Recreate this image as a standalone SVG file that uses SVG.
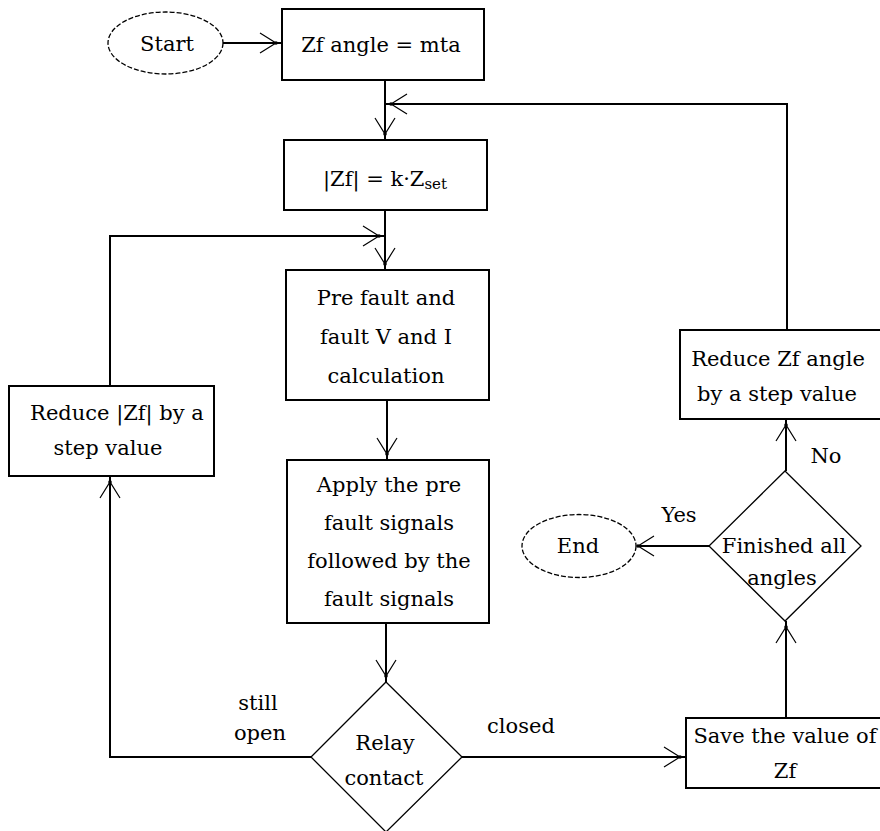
<svg xmlns="http://www.w3.org/2000/svg" width="880" height="831" viewBox="0 0 880 831">
  <style>
    .box { fill: #fff; stroke: #000; stroke-width: 2; }
    .dia { fill: #fff; stroke: #000; stroke-width: 1.3; }
    .term { fill: #fff; stroke: #000; stroke-width: 1.3; stroke-dasharray: 5 2; }
    .wire { fill: none; stroke: #000; stroke-width: 2; }
    .lbl { font-family: "DejaVu Serif", "Liberation Serif", serif; font-size: 21px; fill: #000; text-anchor: middle; }
    .sub { font-size: 15px; }
  </style>
  <defs>
    <!-- open V arrowhead with a dot at the tip; the tip sits 6px short of the line end -->
    <marker id="arrow" markerUnits="userSpaceOnUse" viewBox="-20 -14 34 28" markerWidth="34" markerHeight="28" refX="6" refY="0" orient="auto">
      <path d="M-16,-10 L0,0 L-16,10" fill="none" stroke="#000" stroke-width="1.2"/>
      <circle cx="0" cy="0" r="1.8" fill="#000"/>
    </marker>
    <marker id="arrow-flush" markerUnits="userSpaceOnUse" viewBox="-20 -14 34 28" markerWidth="34" markerHeight="28" refX="0" refY="0" orient="auto">
      <path d="M-16,-10 L0,0 L-16,10" fill="none" stroke="#000" stroke-width="1.2"/>
      <circle cx="0" cy="0" r="1.8" fill="#000"/>
    </marker>
  </defs>

  <rect width="880" height="831" fill="#fff"/>

  <!-- connectors -->
  <g id="connectors">
    <path class="wire" d="M223,43 H282" marker-end="url(#arrow)"/>
    <path class="wire" d="M385,80 V140" marker-end="url(#arrow)"/>
    <path class="wire" d="M787,330 V104 H385" marker-end="url(#arrow)"/>
    <path class="wire" d="M385,210 V270" marker-end="url(#arrow)"/>
    <path class="wire" d="M110,386 V236 H385" marker-end="url(#arrow)"/>
    <path class="wire" d="M387,400 V460" marker-end="url(#arrow)"/>
    <path class="wire" d="M386,623 V682" marker-end="url(#arrow)"/>
    <path class="wire" d="M311,757 H110 V476" marker-end="url(#arrow)"/>
    <path class="wire" d="M462,757 H686" marker-end="url(#arrow)"/>
    <path class="wire" d="M786,718 V621" marker-end="url(#arrow)"/>
    <path class="wire" d="M786,471 V419" marker-end="url(#arrow)"/>
    <path class="wire" d="M709,546 H638" marker-end="url(#arrow-flush)"/>
    <text class="lbl" x="258" y="710">still</text>
    <text class="lbl" x="260" y="740">open</text>
    <text class="lbl" x="521" y="733">closed</text>
    <text class="lbl" x="679" y="522">Yes</text>
    <text class="lbl" x="826" y="463">No</text>
  </g>

  <!-- nodes -->
  <g id="start">
    <ellipse class="term" cx="165.5" cy="43" rx="57.5" ry="31"/>
    <text class="lbl" x="167" y="51">Start</text>
  </g>

  <g id="set-angle">
    <rect class="box" x="282" y="9" width="202" height="71"/>
    <text class="lbl" x="381" y="52">Zf angle = mta</text>
  </g>

  <g id="set-magnitude">
    <rect class="box" x="284" y="140" width="203" height="70"/>
    <text class="lbl" x="385" y="186">|Zf| = k·Z<tspan class="sub" dy="3">set</tspan></text>
  </g>

  <g id="calc">
    <rect class="box" x="286" y="270" width="203" height="130"/>
    <text class="lbl" x="386" y="305">Pre fault and</text>
    <text class="lbl" x="386" y="344">fault V and I</text>
    <text class="lbl" x="386" y="383">calculation</text>
  </g>

  <g id="apply">
    <rect class="box" x="287" y="460" width="202" height="163"/>
    <text class="lbl" x="389" y="492">Apply the pre</text>
    <text class="lbl" x="389" y="530">fault signals</text>
    <text class="lbl" x="389" y="568">followed by the</text>
    <text class="lbl" x="389" y="606">fault signals</text>
  </g>

  <g id="relay">
    <polygon class="dia" points="386,682 462,757 386,832 311,757"/>
    <text class="lbl" x="385" y="750">Relay</text>
    <text class="lbl" x="384" y="785">contact</text>
  </g>

  <g id="reduce-magnitude">
    <rect class="box" x="9" y="386" width="205" height="90"/>
    <text class="lbl" x="117" y="420">Reduce |Zf| by a</text>
    <text class="lbl" x="108" y="455">step value</text>
  </g>

  <g id="save">
    <rect class="box" x="686" y="718" width="200" height="70"/>
    <text class="lbl" x="785" y="743">Save the value of</text>
    <text class="lbl" x="785" y="778">Zf</text>
  </g>

  <g id="finished">
    <polygon class="dia" points="785,471 861,546 785,621 709,546"/>
    <text class="lbl" x="784" y="553">Finished all</text>
    <text class="lbl" x="782" y="585">angles</text>
  </g>

  <g id="reduce-angle">
    <rect class="box" x="680" y="330" width="202" height="89"/>
    <text class="lbl" x="778" y="366">Reduce Zf angle</text>
    <text class="lbl" x="777" y="401">by a step value</text>
  </g>

  <g id="end">
    <ellipse class="term" cx="579" cy="546" rx="57" ry="31.5"/>
    <text class="lbl" x="578" y="553">End</text>
  </g>
</svg>
